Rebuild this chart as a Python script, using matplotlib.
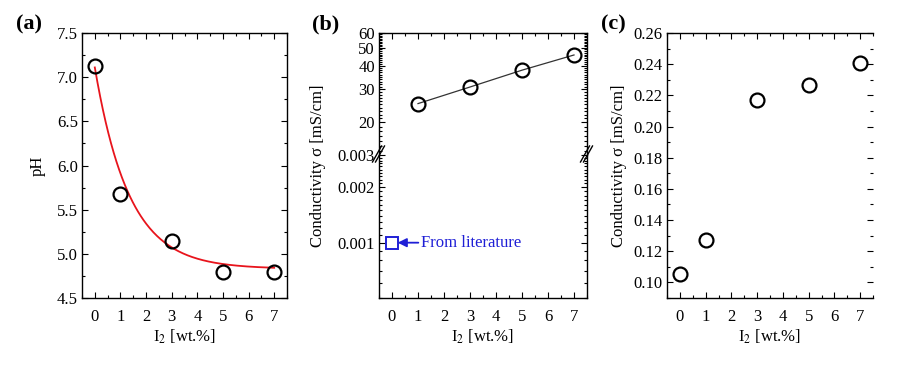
import numpy as np
import matplotlib
matplotlib.use("Agg")
import matplotlib.pyplot as plt
from matplotlib.ticker import FixedLocator, MultipleLocator, NullFormatter, FormatStrFormatter
from matplotlib.lines import Line2D

plt.rcParams["font.family"] = ["Liberation Serif", "DejaVu Serif"]
plt.rcParams["mathtext.fontset"] = "stix"

# ---------------------------
# Data
# ---------------------------
iodine_a = [0, 1, 3, 5, 7]
ph_values = [7.13, 5.68, 5.14, 4.80, 4.79]
# exponential decay fit  y = y0 + A*exp(-x/t)
fit_y0, fit_amp, fit_tau = 4.83, 2.28, 1.34

iodine_b = [1, 3, 5, 7]
cond_b = [25.2, 30.9, 38.0, 45.8]
lit_x = [0]
lit_cond = [0.001]

iodine_c = [0, 1, 3, 5, 7]
cond_c = [0.1056, 0.1275, 0.2167, 0.2267, 0.2406]

W, H = 898, 373
TICK_FS = 12
LABEL_FS = 12
PANEL_FS = 16


def px_axes(fig, left, right, top, bottom):
    return fig.add_axes([left / W, 1 - bottom / H, (right - left) / W, (bottom - top) / H])


def style_ticks(ax, left=True, right=True, top=True, bottom=True):
    ax.tick_params(which="both", direction="in", labelsize=TICK_FS, width=0.8,
                   left=left, right=right, top=top, bottom=bottom)
    ax.tick_params(which="major", length=4)
    ax.tick_params(which="minor", length=2)
    ax.tick_params(axis="x", which="major", pad=8)
    ax.tick_params(axis="y", which="major", pad=3)
    for s in ax.spines.values():
        s.set_linewidth(1.0)


def x_setup(ax, labels=True):
    ax.set_xlim(-0.5, 7.5)
    ax.xaxis.set_major_locator(MultipleLocator(1))
    ax.xaxis.set_minor_locator(MultipleLocator(0.5))
    if labels:
        ax.set_xlabel("I$_2$ [wt.%]", fontsize=LABEL_FS, labelpad=2)


circle = dict(marker="o", ms=10, mfc="none", mec="black", mew=1.6, ls="none", zorder=3)

fig = plt.figure(figsize=(W / 100, H / 100), dpi=100)

# ---------------------------
# (a) pH
# ---------------------------
ax_a = px_axes(fig, 82, 287, 33, 298)
xf = np.linspace(0, 7, 200)
ax_a.plot(xf, fit_y0 + fit_amp * np.exp(-xf / fit_tau), color="#e8141c", lw=1.3, zorder=2)
ax_a.plot(iodine_a, ph_values, **circle)
x_setup(ax_a)
ax_a.set_ylim(4.5, 7.5)
ax_a.yaxis.set_major_locator(MultipleLocator(0.5))
ax_a.yaxis.set_minor_locator(MultipleLocator(0.25))
ax_a.yaxis.set_major_formatter(FormatStrFormatter("%.1f"))
ax_a.set_ylabel("pH", fontsize=LABEL_FS, labelpad=8)
style_ticks(ax_a)
fig.text(16 / W, 1 - 24 / H, "(a)", fontsize=PANEL_FS, fontweight="bold", va="center", ha="left")

# ---------------------------
# (b) conductivity, broken log axis
# ---------------------------
b_left, b_right, b_top, b_break, b_bottom = 379, 587, 33, 155, 298
ax_bt = px_axes(fig, b_left, b_right, b_top, b_break)
ax_bb = px_axes(fig, b_left, b_right, b_break, b_bottom)

ax_bt.plot(iodine_b, cond_b, color="#333333", lw=0.9, zorder=2)
ax_bt.plot(iodine_b, cond_b, **circle)
ax_bt.set_yscale("log")
ax_bt.set_ylim(13.4, 60)
ax_bt.yaxis.set_major_locator(FixedLocator([20, 30, 40, 50, 60]))
ax_bt.yaxis.set_major_formatter(FormatStrFormatter("%d"))
ax_bt.yaxis.set_minor_locator(FixedLocator(np.arange(14, 60, 1)))
ax_bt.yaxis.set_minor_formatter(NullFormatter())
x_setup(ax_bt, labels=False)
ax_bt.tick_params(labelbottom=False)
ax_bt.spines["bottom"].set_visible(False)
style_ticks(ax_bt, bottom=False)

ax_bb.plot(lit_x, lit_cond, marker="s", ms=8, mfc="none", mec="#1f1fd6", mew=1.4,
           ls="none", zorder=3)
ax_bb.annotate("From literature", xy=(0.22, 0.001), xytext=(1.12, 0.001),
               color="#1f1fd6", fontsize=TICK_FS, va="center", ha="left",
               arrowprops=dict(arrowstyle="-|>", color="#1f1fd6", lw=1.3,
                               mutation_scale=13, shrinkA=0, shrinkB=0))
ax_bb.set_yscale("log")
ax_bb.set_ylim(0.0005, 0.003)
ax_bb.yaxis.set_major_locator(FixedLocator([0.001, 0.002, 0.003]))
ax_bb.yaxis.set_major_formatter(FormatStrFormatter("%.3f"))
ax_bb.yaxis.set_minor_locator(FixedLocator(np.arange(5, 31, 1) * 1e-4))
ax_bb.yaxis.set_minor_formatter(NullFormatter())
x_setup(ax_bb)
ax_bb.spines["top"].set_visible(False)
style_ticks(ax_bb, top=False)
fig.text(318 / W, 1 - 166 / H, "Conductivity σ [mS/cm]", rotation=90, fontsize=LABEL_FS,
         ha="center", va="center")
fig.text(312 / W, 1 - 24 / H, "(b)", fontsize=PANEL_FS, fontweight="bold", va="center", ha="left")

# break marks on both spines
for xs in (b_left, b_right):
    for dx in (-1.5, 1.5):
        x0, x1 = xs - 5 + dx, xs + 4 + dx
        y0, y1 = b_break + 7, b_break - 9
        fig.add_artist(Line2D([x0 / W, x1 / W], [1 - y0 / H, 1 - y1 / H],
                              color="black", lw=1.0, transform=fig.transFigure))

# ---------------------------
# (c) conductivity linear
# ---------------------------
ax_c = px_axes(fig, 667, 873, 33, 298)
ax_c.plot(iodine_c, cond_c, **circle)
x_setup(ax_c)
ax_c.set_ylim(0.09, 0.26)
ax_c.yaxis.set_major_locator(MultipleLocator(0.02))
ax_c.yaxis.set_minor_locator(MultipleLocator(0.01))
ax_c.yaxis.set_major_formatter(FormatStrFormatter("%.2f"))
ax_c.set_ylabel("Conductivity σ [mS/cm]", fontsize=LABEL_FS, labelpad=5)
ax_c.spines["right"].set_visible(False)
style_ticks(ax_c)
fig.text(601 / W, 1 - 24 / H, "(c)", fontsize=PANEL_FS, fontweight="bold", va="center", ha="left")

fig.savefig("out.png", dpi=100, facecolor="white")
